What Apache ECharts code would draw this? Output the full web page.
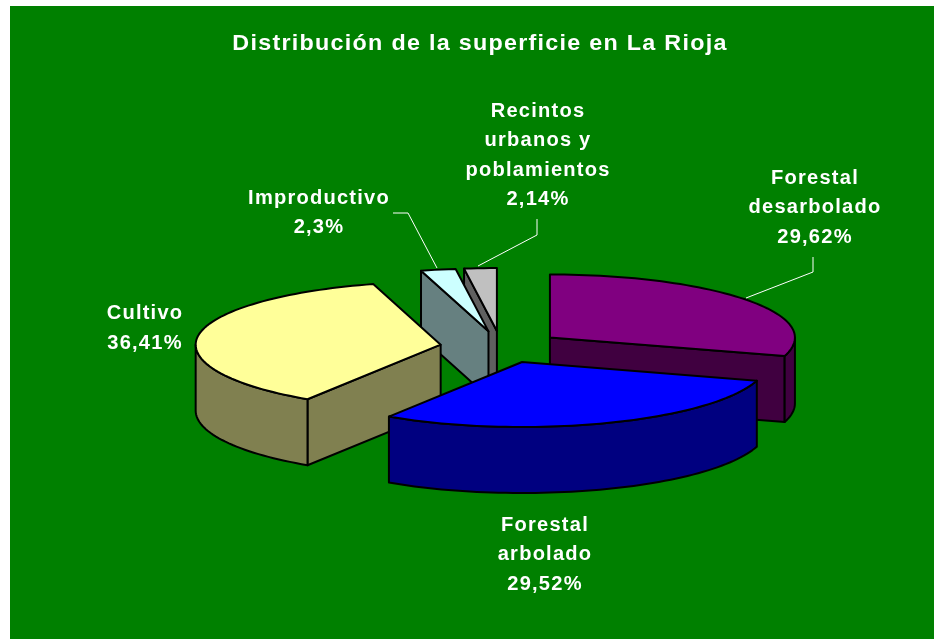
<!DOCTYPE html>
<html>
<head>
<meta charset="utf-8">
<style>html,body{margin:0;padding:0;background:#fff}#c{width:934px;height:639px}</style>
<script src="https://cdn.jsdelivr.net/npm/echarts@6/dist/echarts.min.js"></script>
</head>
<body>
<div id="c"></div>
<script>
const titleText = 'Distribución de la superficie en La Rioja';
const categories = ['Forestal desarbolado', 'Forestal arbolado', 'Cultivo', 'Improductivo', 'Recintos urbanos y poblamientos'];
const values = [29.62, 29.52, 36.41, 2.3, 2.14];
const topColors = ['#800080', '#0000FF', '#FFFF99', '#CCFFFF', '#C0C0C0'];
const sideColors = ['#400040', '#000080', '#808050', '#668080', '#606060'];
const labelLines = [['Forestal', 'desarbolado'], ['Forestal', 'arbolado'], ['Cultivo'], ['Improductivo'], ['Recintos', 'urbanos y', 'poblamientos']];

// Layout (pixels), separate from the data
const labelPos = [[815, 207.5], [545, 554.5], [145, 328.5], [319, 213], [538, 155.5]];
const leaders = [
  [[813, 257], [813, 272], [746, 298]],
  null, null,
  [[393, 213], [408, 213], [437, 268]],
  [[537, 219], [537, 235], [478, 266]]
];
const G = { cx: 501, cy: 347, rx: 245, ryFront: 65, ryBack: 63, ex: 61, ey: 16, depth: 66 };
const total = values.reduce((a, b) => a + b, 0);
const starts = [];
values.reduce((acc, v, i) => { starts[i] = acc; return acc + v; }, 0);
const toAng = v => v / total * 2 * Math.PI;

function renderSlice(params, api) {
  const i = params.dataIndex;
  const a = toAng(starts[i]), b = toAng(starts[i] + api.value(0));
  const mid = (a + b) / 2;
  const ox = G.cx + G.ex * Math.sin(mid), oy = G.cy - G.ey * Math.cos(mid);
  const pt = (t, d) => {
    const c = Math.cos(t);
    return [ox + G.rx * Math.sin(t), oy - (c > 0 ? G.ryBack : G.ryFront) * c + (d || 0)];
  };
  const arc = (s, e, d) => {
    const n = Math.max(2, Math.ceil((e - s) / 0.03));
    const out = [];
    for (let k = 0; k <= n; k++) out.push(pt(s + (e - s) * k / n, d));
    return out;
  };
  const base = Math.round((1 - Math.cos(mid)) * 100) * 10;
  const line = { stroke: '#000', lineWidth: 2, lineJoin: 'round' };
  const kids = [];
  const poly = (points, fill) => kids.push({
    type: 'polygon', z2: base + kids.length, shape: { points },
    style: Object.assign({ fill }, line)
  });
  const apex = [ox, oy], apexB = [ox, oy + G.depth];
  // radial faces turned to the viewer
  if (Math.sin(a) < -1e-6) poly([apex, pt(a), pt(a, G.depth), apexB], sideColors[i]);
  if (Math.sin(b) > 1e-6) poly([apex, pt(b), pt(b, G.depth), apexB], sideColors[i]);
  // front part of the outer wall
  const ws = Math.max(a, Math.PI / 2), we = Math.min(b, 3 * Math.PI / 2);
  if (we > ws) poly(arc(ws, we, 0).concat(arc(ws, we, G.depth).reverse()), sideColors[i]);
  // top
  poly([apex].concat(arc(a, b, 0)), topColors[i]);
  return { type: 'group', children: kids };
}

const textEl = (text, x, y, size, scale) => ({
  type: 'text', x, y, scaleX: scale, z: 10,
  style: { text, x: 0, y: 0, fill: '#fff', font: 'bold ' + size + 'px "Liberation Sans", Arial, sans-serif',
           textAlign: 'center', textVerticalAlign: 'middle', lineHeight: 29.5 }
});
const pct = v => String(v).replace('.', ',') + '%';

const bgRect = { type: 'rect', z: -1, silent: true, shape: { x: 10, y: 6, width: 924, height: 633 }, style: { fill: '#008000' } };
const graphics = [
  bgRect,
  textEl(titleText, 480, 44, 22, 1.06)
];
categories.forEach((c, i) => {
  graphics.push(textEl(labelLines[i].concat(pct(values[i])).join('\n'), labelPos[i][0], labelPos[i][1], 20, 1.005));
  if (leaders[i]) graphics.push({ type: 'polyline', z: 10, shape: { points: leaders[i] }, style: { stroke: '#fff', lineWidth: 1, fill: null } });
});

const chart = echarts.init(document.getElementById('c'), null, { renderer: 'canvas' });
chart.setOption({ backgroundColor: '#fff', animation: false, graphic: { elements: [bgRect] } });
// the reference text is widely tracked; the canvas carries that as context state
const cv = document.querySelector('#c canvas');
if (cv) cv.getContext('2d').letterSpacing = '1.2px';
chart.setOption({
  graphic: { elements: graphics },
  series: [{
    type: 'custom',
    coordinateSystem: 'none',
    renderItem: renderSlice,
    silent: true,
    data: values.map((v, i) => ({ name: categories[i], value: [v] }))
  }]
});
</script>
</body>
</html>
